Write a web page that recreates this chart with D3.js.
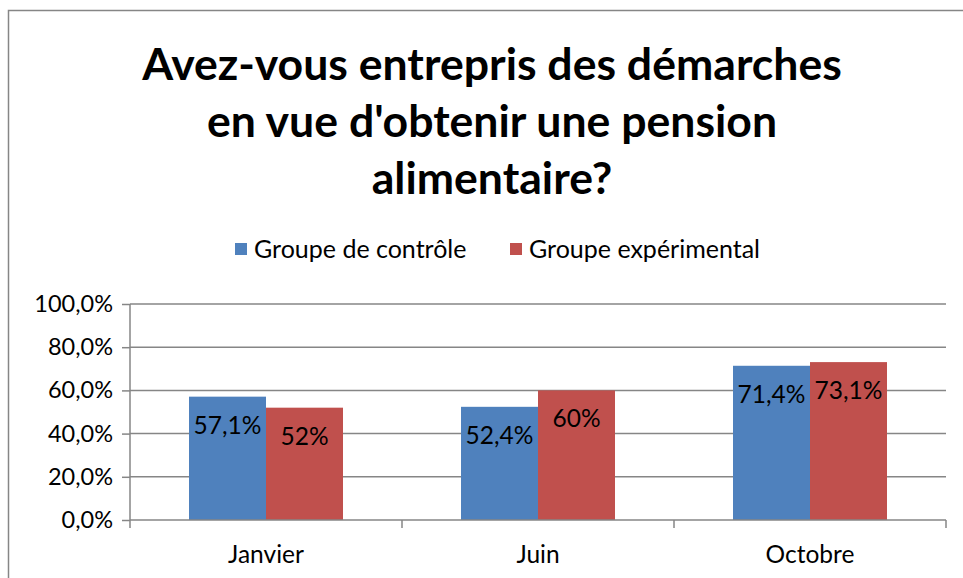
<html lang='en'>
<head>
  <meta charset='UTF-8'/>
  <title>Pension alimentaire</title>
  <script src='https://d3js.org/d3.v7.min.js'></script>
  <style>
    body { margin: 0; background: #fff; }
    svg { font-family: Lato, 'Open Sans', sans-serif; }
  </style>
</head>
<body>
  <svg id="chart" width="963" height="578"></svg>
</body>
</html>

<script>
const titleLines = ["Avez-vous entrepris des démarches", "en vue d'obtenir une pension", "alimentaire?"];
const categories = ['Janvier', 'Juin', 'Octobre'];
const series = ['Groupe de contrôle', 'Groupe expérimental'];
const controle = [0.571, 0.524, 0.714];
const experimental = [0.52, 0.60, 0.731];
const labels = [['57,1%', '52,4%', '71,4%'], ['52%', '60%', '73,1%']];
const yTicks = [0, 0.2, 0.4, 0.6, 0.8, 1.0];
const colors = ['#4F81BD', '#C0504D'];

const svg = d3.select('#chart');
const grey = '#868686';

// chart border (cropped on right/bottom like the screenshot)
svg.append('rect')
  .attr('x', 8.5).attr('y', 10.5)
  .attr('width', 1000).attr('height', 1000)
  .attr('fill', 'none').attr('stroke', grey).attr('stroke-width', 1.5);

// title
const title = svg.append('g');
title.selectAll('text').data(titleLines).enter()
  .append('text')
  .attr('x', 492)
  .attr('y', (d, i) => 80 + i * 57)
  .attr('text-anchor', 'middle')
  .attr('font-weight', 'bold')
  .attr('font-size', 40)
  .text(d => d);
// fit first line to about 700px wide
const w0 = title.select('text').node().getComputedTextLength();
title.selectAll('text').attr('font-size', 40 * 700 / w0);

// legend
const legendX = [235, 510];
const legend = svg.append('g');
series.forEach((s, i) => {
  legend.append('rect')
    .attr('x', legendX[i]).attr('y', 243)
    .attr('width', 12).attr('height', 12)
    .attr('fill', colors[i]);
  legend.append('text')
    .attr('x', legendX[i] + 19).attr('y', 258)
    .attr('font-size', 25)
    .text(s);
});

// scales
const pLeft = 130, pRight = 946, pTop = 304, pBottom = 520;
const x = d3.scaleBand().domain(categories).range([pLeft, pRight]).padding(0);
const xs = d3.scaleBand().domain(series).range([0, x.bandwidth()])
  .paddingInner(0).paddingOuter(59 / 77);
const y = d3.scaleLinear().domain([0, 1]).range([pBottom, pTop]);

// gridlines
svg.append('g').selectAll('line').data(yTicks.slice(1)).enter()
  .append('line')
  .attr('x1', pLeft).attr('x2', pRight)
  .attr('y1', d => y(d)).attr('y2', d => y(d))
  .attr('stroke', grey).attr('stroke-width', 1.5);

// y axis
const fmt = d => d3.format('.1f')(d * 100).replace('.', ',') + '%';
const yAxis = svg.append('g')
  .attr('transform', `translate(${pLeft},0)`)
  .call(d3.axisLeft(y).tickValues(yTicks).tickFormat(fmt).tickSize(8).tickPadding(9));
yAxis.selectAll('path, line').attr('stroke', grey).attr('stroke-width', 1.5);
yAxis.select('.domain').attr('d', `M0,${pTop}V${pBottom}`);
yAxis.selectAll('text').attr('font-size', 23.5).attr('fill', '#000');
yAxis.attr('font-family', null);

// bars
const data = [controle, experimental];
series.forEach((s, si) => {
  const g = svg.append('g');
  g.selectAll('rect').data(data[si]).enter()
    .append('rect')
    .attr('x', (d, i) => x(categories[i]) + xs(s))
    .attr('y', d => y(d))
    .attr('width', xs.bandwidth())
    .attr('height', d => pBottom - y(d))
    .attr('fill', colors[si]);
  g.selectAll('text').data(data[si]).enter()
    .append('text')
    .attr('x', (d, i) => x(categories[i]) + xs(s) + xs.bandwidth() / 2)
    .attr('y', d => y(d) + 37)
    .attr('text-anchor', 'middle')
    .attr('font-size', 24.5)
    .text((d, i) => labels[si][i]);
});

// x axis
const xAxis = svg.append('g')
  .attr('transform', `translate(0,${pBottom})`);
xAxis.append('line')
  .attr('x1', pLeft).attr('x2', pRight)
  .attr('stroke', grey).attr('stroke-width', 1.5);
xAxis.selectAll('.tick').data(categories.concat([null])).enter()
  .append('line')
  .attr('class', 'tick')
  .attr('x1', (d, i) => pLeft + i * x.step()).attr('x2', (d, i) => pLeft + i * x.step())
  .attr('y1', 0).attr('y2', 8)
  .attr('stroke', grey).attr('stroke-width', 1.5);
xAxis.selectAll('.lbl').data(categories).enter()
  .append('text')
  .attr('class', 'lbl')
  .attr('x', d => x(d) + x.bandwidth() / 2)
  .attr('y', 43)
  .attr('text-anchor', 'middle')
  .attr('font-size', 24.5)
  .text(d => d);
</script>
